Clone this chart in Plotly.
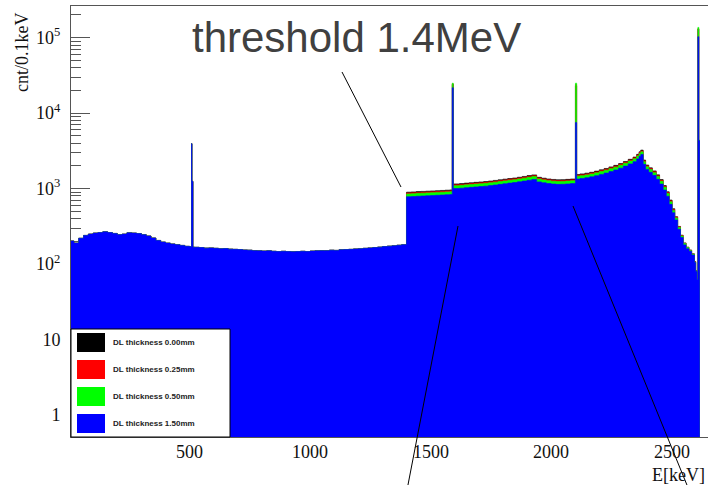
import plotly.graph_objects as go

# ---------------- data ----------------
# bin left edges [keV] below the 1.4 MeV threshold (identical for all DL thicknesses)
low_edges = [0, 20, 40, 60, 80, 100, 120, 140, 160, 180, 200, 220, 240, 260, 280, 300,
             320, 340, 360, 380, 400, 420, 440, 460, 480, 500, 508, 510, 514,
             520, 540, 560, 580, 600, 620, 640, 660, 680, 700, 720, 740, 760, 780,
             800, 820, 840, 860, 880, 900, 920, 940, 960, 980, 1000, 1020, 1040, 1060,
             1080, 1100, 1120, 1140, 1160, 1180, 1200, 1220, 1240, 1260, 1280, 1300,
             1320, 1340, 1360, 1380]
low_counts = [203, 190, 220, 240, 250, 258, 262, 268, 262, 255, 246, 250, 260, 258, 254, 246,
              236, 222, 206, 196, 190, 185, 181, 177, 172, 170, 3950, 1250, 168,
              167, 166, 163, 164, 162, 160, 161, 158, 157, 156, 154, 153, 151, 150,
              149, 150, 148, 147, 148, 147, 146, 147, 148, 147, 149, 150, 151, 151,
              153, 152, 155, 156, 157, 159, 160, 162, 164, 166, 168, 171,
              173, 175, 178, 181]

# bin left edges [keV] above the threshold
high_edges = [1400, 1420, 1440, 1460, 1480, 1500, 1520, 1540, 1560, 1580, 1590, 1594,
              1620, 1640, 1660, 1680, 1700, 1720, 1740, 1760, 1780, 1800, 1820, 1840,
              1860, 1880, 1900, 1920, 1940, 1960, 1980, 2000, 2020, 2040, 2060, 2080,
              2101, 2106, 2120, 2140, 2160, 2180, 2200, 2220, 2240, 2260, 2280, 2300,
              2320, 2340, 2355, 2365, 2372, 2382, 2392, 2405, 2420, 2436, 2450, 2465,
              2478, 2490, 2502, 2513, 2525, 2537, 2548, 2560, 2572, 2583, 2595, 2600,
              2605, 2609, 2613, 2617]

dl000_high = [899, 906, 915, 920, 927, 934, 941, 947, 955, 963, 24000, 1157,
              1167, 1185, 1198, 1213, 1228, 1242, 1263, 1286, 1311, 1337, 1363, 1385,
              1417, 1452, 1490, 1523, 1415, 1377, 1345, 1325, 1311, 1317, 1328, 1343,
              23000, 1541, 1570, 1605, 1650, 1708, 1777, 1852, 1943, 2035, 2150, 2288,
              2450, 2622, 2852, 3082, 3244, 2395, 2057, 1888, 1720, 1524, 1319, 1100,
              909, 707, 543, 426, 316, 242, 191, 168, 154, 137, 108, 82,
              64, 130000, 4330, 4330]
dl025_high = [878, 885, 893, 898, 905, 912, 919, 925, 932, 940, 24500, 1130,
              1139, 1157, 1170, 1185, 1199, 1212, 1233, 1256, 1280, 1305, 1331, 1352,
              1383, 1417, 1454, 1487, 1381, 1344, 1313, 1294, 1280, 1285, 1297, 1311,
              24000, 1505, 1533, 1567, 1611, 1668, 1735, 1808, 1897, 1987, 2099, 2234,
              2392, 2560, 2784, 3009, 3167, 2338, 2009, 1844, 1679, 1488, 1288, 1074,
              888, 690, 530, 420, 312, 240, 190, 167, 153, 136, 108, 81,
              63, 132000, 4350, 4350]
dl050_high = [852, 859, 867, 872, 879, 885, 892, 898, 905, 913, 25000, 1097,
              1106, 1123, 1136, 1150, 1164, 1177, 1197, 1219, 1243, 1267, 1292, 1313,
              1343, 1376, 1412, 1444, 1341, 1305, 1275, 1256, 1243, 1248, 1259, 1273,
              25000, 1461, 1488, 1521, 1564, 1619, 1684, 1755, 1842, 1929, 2038, 2169,
              2322, 2485, 2703, 2921, 3075, 2270, 1950, 1790, 1630, 1445, 1250, 1043,
              862, 670, 515, 410, 306, 236, 188, 166, 152, 135, 107, 81,
              63, 137000, 4400, 4400]
dl150_high = [782, 788, 795, 800, 806, 812, 818, 824, 830, 838, 21700, 1006,
              1015, 1030, 1042, 1055, 1068, 1080, 1098, 1118, 1140, 1162, 1185, 1205,
              1232, 1262, 1295, 1325, 1230, 1197, 1170, 1152, 1140, 1145, 1155, 1168,
              7500, 1340, 1365, 1395, 1435, 1485, 1545, 1610, 1690, 1770, 1870, 1990,
              2130, 2280, 2480, 2680, 2840, 2100, 1800, 1650, 1500, 1330, 1150, 960,
              795, 620, 480, 385, 290, 225, 180, 160, 148, 132, 105, 80,
              62, 103000, 4300, 4300]

series_names = ["DL thickness 0.00mm", "DL thickness 0.25mm",
                "DL thickness 0.50mm", "DL thickness 1.50mm"]
series_high = [dl000_high, dl025_high, dl050_high, dl150_high]
series_colors = ["#000000", "#ff0000", "#00ff00", "#0000ff"]

y_tick_vals = [1, 10, 100, 1000, 10000, 100000]
y_tick_text = ["1", "10", "10<sup>2</sup>", "10<sup>3</sup>", "10<sup>4</sup>", "10<sup>5</sup>"]
x_tick_vals = [500, 1000, 1500, 2000, 2500]

# ---------------- figure ----------------
W, H = 708, 485
L, R, T, B = 71, 0, 6, 48
PW, PH = W - L - R, H - T - B


def px(x):
    return (x - L) / PW


def py(y):
    return (H - B - y) / PH


fig = go.Figure()
edges = low_edges + high_edges
for name, high, col in zip(series_names, series_high, series_colors):
    fig.add_trace(go.Scatter(
        x=edges, y=low_counts + high, name=name, mode="lines",
        line=dict(color=col, width=0.6, shape="hv"),
        fill="tozeroy", fillcolor=col, showlegend=False, hoverinfo="skip"))

minor_vals = [k * 10 ** n for n in range(-1, 6) for k in range(2, 10)]
tick_font = dict(family="Liberation Serif", size=18, color="#111")

fig.update_layout(
    width=W, height=H,
    margin=dict(l=L, r=R, t=T, b=B, autoexpand=False),
    paper_bgcolor="white", plot_bgcolor="white",
    showlegend=False,
    xaxis=dict(range=[8, 2651], tickvals=x_tick_vals, ticks="", showticklabels=False,
               showgrid=False, zeroline=False, showline=True, linecolor="#555",
               linewidth=1, mirror=True, layer="below traces", automargin=False),
    yaxis=dict(type="log", range=[-0.29, 5.42], tickvals=y_tick_vals, ticktext=y_tick_text,
               ticks="inside", ticklen=19, tickcolor="#555", showgrid=False,
               zeroline=False, showline=True, linecolor="#555", linewidth=1,
               layer="below traces", automargin=False,
               minor=dict(tickvals=minor_vals, ticks="inside", ticklen=10,
                          tickcolor="#555", showgrid=False),
               tickfont=tick_font, ticklabelstandoff=6),
)

# x tick labels (placed just below the frame, as in the ROOT canvas)
for v in x_tick_vals:
    fig.add_annotation(text=str(v), xref="x", yref="paper", x=v, y=py(452),
                       xanchor="center", yanchor="middle", showarrow=False,
                       font=tick_font)

# axis titles
fig.add_annotation(text="E[keV]", xref="paper", yref="paper", x=px(707), y=py(475),
                   xanchor="right", yanchor="middle", showarrow=False, font=tick_font)
fig.add_annotation(text="cnt/0.1keV", xref="paper", yref="paper", x=px(22), y=py(53),
                   xanchor="center", yanchor="middle", showarrow=False, textangle=-90,
                   font=tick_font)

# big label
fig.add_annotation(text="threshold 1.4MeV", xref="paper", yref="paper", x=px(356), y=py(37),
                   xanchor="center", yanchor="middle", showarrow=False,
                   font=dict(family="Liberation Sans", size=42, color="#404040"))

# pointer lines
for (x0, y0, x1, y1) in [(342, 72, 401, 187), (458, 226, 407, 490), (573, 206, 689, 490)]:
    fig.add_shape(type="line", xref="paper", yref="paper",
                  x0=px(x0), y0=py(y0), x1=px(x1), y1=py(y1),
                  line=dict(color="black", width=1), layer="above")

# legend box
fig.add_shape(type="rect", xref="paper", yref="paper", x0=px(71), x1=px(230),
              y0=py(437), y1=py(329), fillcolor="white",
              line=dict(color="black", width=1), layer="above")
for i, (name, col) in enumerate(zip(series_names, series_colors)):
    cy = 342.5 + 27 * i
    fig.add_shape(type="rect", xref="paper", yref="paper", x0=px(77), x1=px(105),
                  y0=py(cy + 9.5), y1=py(cy - 9.5), fillcolor=col,
                  line=dict(color=col, width=0), layer="above")
    fig.add_annotation(text="<b>" + name + "</b>", xref="paper", yref="paper",
                       x=px(111), y=py(cy), xanchor="left", yanchor="middle",
                       showarrow=False,
                       font=dict(family="Liberation Sans", size=8, color="#222"))

fig.write_html("out.html", config={"displayModeBar": False},
               post_script="document.body.style.margin='0';document.body.style.overflow='hidden';")
